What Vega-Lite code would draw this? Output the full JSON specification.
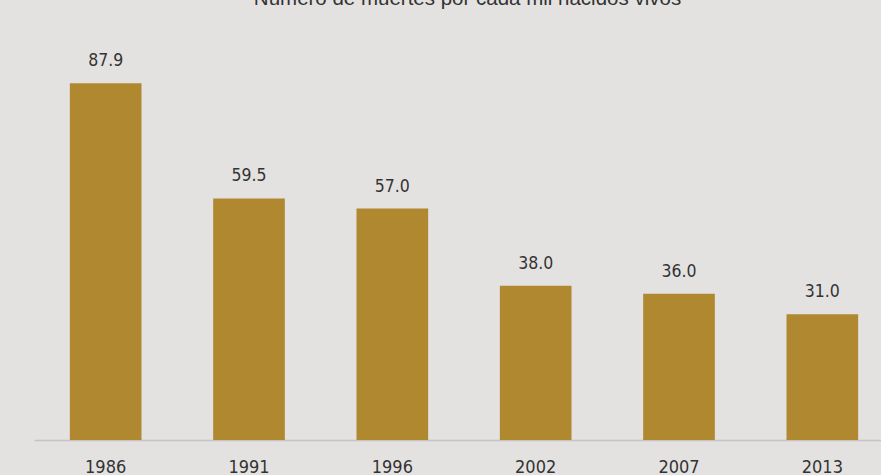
{
  "$schema": "https://vega.github.io/schema/vega-lite/v6.json",
  "autosize": "none",
  "width": 847,
  "height": 406,
  "padding": {"left": 34, "top": 34, "right": 0, "bottom": 35},
  "background": "#e3e2e1",
  "config": {"view": {"stroke": null}},
  "title": {
    "text": "Número de muertes por cada mil nacidos vivos",
    "font": "Liberation Sans",
    "fontSize": 20.5,
    "fontWeight": "normal",
    "color": "#333333",
    "offset": 25,
    "dx": 10,
    "anchor": "middle",
    "frame": "group"
  },
  "data": {
    "values": [
      {"year": "1986", "value": 87.9},
      {"year": "1991", "value": 59.5},
      {"year": "1996", "value": 57.0},
      {"year": "2002", "value": 38.0},
      {"year": "2007", "value": 36.0},
      {"year": "2013", "value": 31.0}
    ]
  },
  "encoding": {
    "x": {
      "field": "year",
      "type": "ordinal",
      "sort": null,
      "scale": {"range": [0, 860], "paddingInner": 0.5, "paddingOuter": 0.25},
      "axis": {
        "title": null,
        "labelAngle": 0,
        "labelFont": "DejaVu Sans Condensed, Roboto",
        "labelFontSize": 18,
        "labelColor": "#333333",
        "labelPadding": 18,
        "ticks": false,
        "domainColor": "#c4c4c4",
        "domainWidth": 1.5
      }
    },
    "y": {
      "field": "value",
      "type": "quantitative",
      "scale": {"domain": [0, 100], "nice": false},
      "axis": null
    }
  },
  "layer": [
    {"mark": {"type": "bar", "color": "#b08830"}},
    {
      "mark": {"type": "text", "dy": -13, "baseline": "bottom", "font": "DejaVu Sans Condensed, Roboto", "fontSize": 17.5, "color": "#333333"},
      "encoding": {"text": {"field": "value", "type": "quantitative", "format": ".1f"}}
    }
  ]
}
